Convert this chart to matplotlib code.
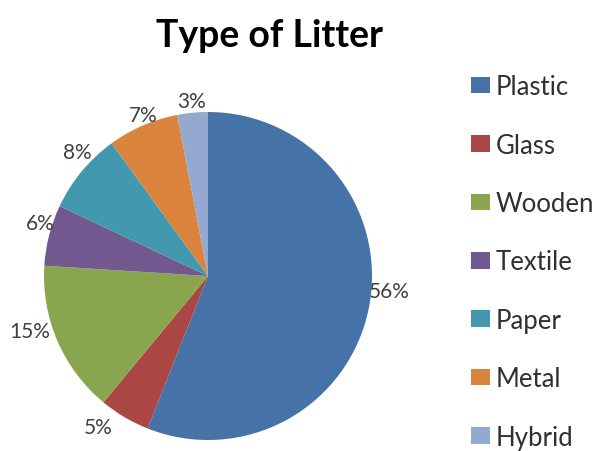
import numpy as np
import matplotlib.pyplot as plt
from matplotlib.patches import Patch

plt.rcParams['font.family'] = ['Lato', 'DejaVu Sans']

categories = ["Plastic", "Glass", "Wooden", "Textile", "Paper", "Metal", "Hybrid"]
shares = [56, 5, 15, 6, 8, 7, 3]
colors = ["#4572A7", "#AA4643", "#89A54E", "#71588F", "#4198AF", "#DB843D", "#93A9CF"]

# where each percentage label sits: angle (deg) and distance in radii
label_angle = [-4.7, -126.0, -163.0, 162.5, 136.6, 112.0, 95.3]
label_dist = [1.11, 1.14, 1.14, 1.07, 1.10, 1.06, 1.07]

W, H = 603, 452
fig = plt.figure(figsize=(W / 100, H / 100), dpi=100)

# pie circle: centre ~(208, 277) px, radius ~164 px
cx, cy, r = 208, 277, 164
ax = fig.add_axes([(cx - r) / W, (H - cy - r) / H, 2 * r / W, 2 * r / H])

wedges, texts, autotexts = ax.pie(
    shares,
    colors=colors,
    startangle=90,
    counterclock=False,
    autopct="%d%%",
    textprops=dict(color="#404040", fontsize=15),
    wedgeprops=dict(linewidth=0),
)
for t, a, d in zip(autotexts, label_angle, label_dist):
    t.set_position((d * np.cos(np.radians(a)), d * np.sin(np.radians(a))))
    t.set_clip_on(False)
ax.set_xlim(-1, 1)
ax.set_ylim(-1, 1)
ax.set_aspect("equal")
ax.axis("off")

fig.text(270 / W, 1 - 36 / H, "Type of Litter", ha="center", va="center",
         fontsize=27, fontweight="bold", color="black")

handles = [Patch(facecolor=c, edgecolor="none") for c in colors]
fig.legend(handles, categories, loc="upper left", bbox_to_anchor=(448 / W, 1 - 52 / H),
           frameon=False, fontsize=18.5, labelspacing=1.3, handlelength=0.74,
           handleheight=0.62, handletextpad=0.2, labelcolor="#303030")

fig.savefig("out.png", dpi=100)
